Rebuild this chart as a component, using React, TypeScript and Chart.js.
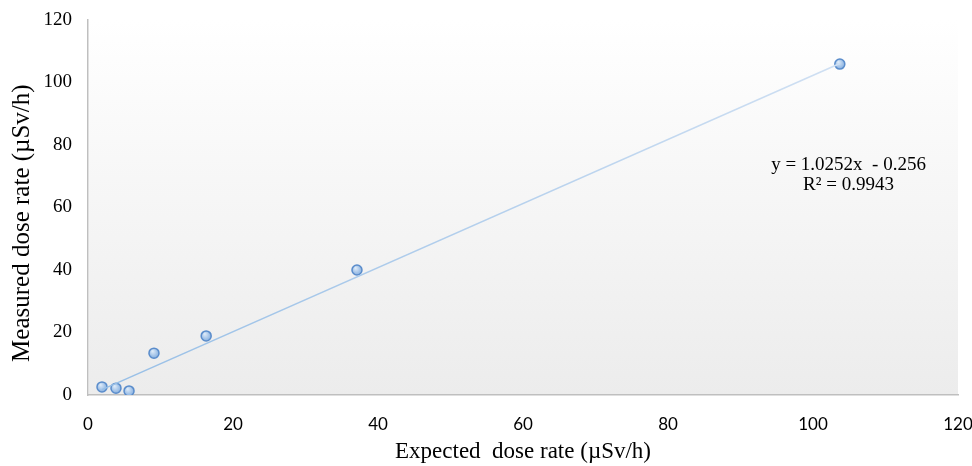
import React, { useEffect, useRef } from "react";
import { Chart, registerables } from "chart.js";

Chart.register(...registerables);

const expected = [1.93, 3.86, 5.66, 9.1, 16.3, 37.1, 103.7];
const measured = [2.6, 2.2, 1.3, 13.4, 18.9, 40.0, 105.9];
const slope = 1.0252;
const intercept = -0.256;
const equationLines = ["y = 1.0252x  - 0.256", "R\u00b2 = 0.9943"];
const xTitle = "Expected  dose rate (\u00b5Sv/h)";
const yTitle = "Measured dose rate (\u00b5Sv/h)";

export default function App() {
  const ref = useRef<HTMLCanvasElement | null>(null);
  useEffect(() => {
    document.body.style.margin = "0";
    const canvas = ref.current!;
    const xmin = Math.min(...expected);
    const xmax = Math.max(...expected);
    const trend = [
      { x: xmin, y: slope * xmin + intercept },
      { x: xmax, y: slope * xmax + intercept },
    ];
    const bgPlugin = {
      id: "bg",
      beforeDatasetsDraw(chart: any) {
        const { ctx, chartArea: a } = chart;
        const g = ctx.createLinearGradient(0, a.top, 0, a.bottom);
        g.addColorStop(0, "#ffffff");
        g.addColorStop(1, "#ececec");
        ctx.save();
        ctx.fillStyle = g;
        ctx.fillRect(a.left + 1, a.top, a.right - a.left - 1, a.bottom - a.top - 1);
        ctx.restore();
      },
    };
    const textPlugin = {
      id: "eq",
      afterDatasetsDraw(chart: any) {
        const { ctx, scales } = chart;
        const cx = scales.x.getPixelForValue(104.9);
        const cy = scales.y.getPixelForValue(73.6);
        ctx.save();
        ctx.font = "19px 'Liberation Serif', 'Times New Roman', serif";
        ctx.fillStyle = "#000";
        ctx.textAlign = "center";
        ctx.textBaseline = "middle";
        equationLines.forEach((t, i) => ctx.fillText(t, cx, cy + i * 20));
        // y axis title, drawn slightly below the axis centre as in the reference
        const yc = scales.y.getPixelForValue(55);
        ctx.translate(22, yc);
        ctx.rotate(-Math.PI / 2);
        ctx.font = "25px 'Liberation Serif', 'Times New Roman', serif";
        ctx.fillText(yTitle, 0, 0);
        ctx.restore();
      },
    };
    const serif = { family: "'Liberation Serif', 'Times New Roman', serif", size: 19 };
    const sans = { family: "Lato, 'Open Sans', sans-serif", size: 17 };
    const chart = new Chart(canvas, {
      type: "scatter",
      data: {
        datasets: [
          {
            type: "line",
            data: trend,
            borderColor: (c: any) => {
              const a = c.chart.chartArea;
              if (!a) return "rgba(160,196,232,0.9)";
              const g = c.chart.ctx.createLinearGradient(0, a.bottom, 0, a.top);
              g.addColorStop(0, "rgba(150,190,230,1)");
              g.addColorStop(1, "rgba(215,228,244,1)");
              return g;
            },
            borderWidth: 1.6,
            pointRadius: 0,
            fill: false,
          } as any,
          {
            data: expected.map((x, i) => ({ x, y: measured[i] })),
            backgroundColor: (c: any) => {
              const el = c.element;
              const ctx = c.chart.ctx;
              if (!el || el.x == null) return "#a8c8ec";
              const g = ctx.createRadialGradient(el.x - 1.5, el.y - 2, 0.5, el.x, el.y, 6);
              g.addColorStop(0, "#dbe9f8");
              g.addColorStop(1, "#7aa7dc");
              return g;
            },
            borderColor: "#5a8ccb",
            borderWidth: 1.5,
            pointRadius: 5,
            pointHoverRadius: 5,
          },
        ],
      },
      options: {
        animation: false,
        responsive: false,
        layout: { padding: { top: 20, right: 14, left: 0, bottom: 0 } },
        plugins: { legend: { display: false }, tooltip: { enabled: false } },
        scales: {
          x: {
            type: "linear",
            min: 0,
            max: 120,
            ticks: { stepSize: 20, font: sans, color: "#000", padding: 19, maxRotation: 0 },
            grid: { display: false, drawTicks: false },
            border: { display: true, color: "#bfbfbf", width: 1.5 },
            title: { display: true, text: xTitle, font: { ...serif, size: 23 }, color: "#000", padding: { top: 0, bottom: 0 } },
            afterFit(s: any) { s.height = 71; s.paddingLeft = 0; s.paddingRight = 0; },
          },
          y: {
            type: "linear",
            min: 0,
            max: 120,
            ticks: { stepSize: 20, font: serif, color: "#000", padding: 16 },
            grid: { display: false, drawTicks: false },
            border: { display: true, color: "#bfbfbf", width: 1.5 },
            title: { display: false, text: yTitle },
            afterFit(s: any) { s.width = 88; s.paddingTop = 0; s.paddingBottom = 0; },
          },
        },
      },
      plugins: [bgPlugin, textPlugin],
    });
    return () => chart.destroy();
  }, []);
  return (
    <div style={{ width: 972, height: 466, background: "#fff" }}>
      <canvas ref={ref} width={972} height={466} />
    </div>
  );
}
